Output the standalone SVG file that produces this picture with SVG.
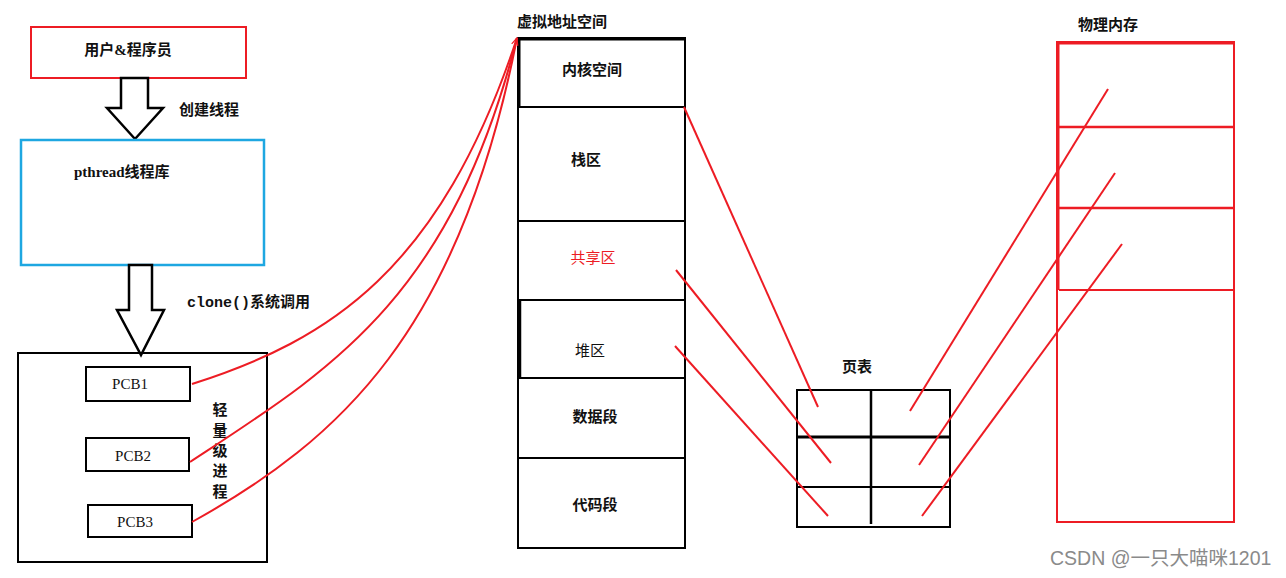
<svg xmlns="http://www.w3.org/2000/svg" width="1286" height="578" viewBox="0 0 1286 578">
<defs>
<style>
.t{font-family:"Liberation Serif","Noto Sans CJK SC",serif;font-size:15px;font-weight:bold;fill:#111;}
.n{font-weight:normal;}
.m{font-family:"Liberation Mono","Noto Sans CJK SC",monospace;font-size:15px;font-weight:bold;fill:#111;}
.blk{fill:none;stroke:#000;stroke-width:2;}
.red{fill:none;stroke:#ed1c24;stroke-width:2;}
.lnk{fill:none;stroke:#ed1c24;stroke-width:2;}
.blockarrow{fill:#fff;stroke:#000;stroke-width:2.5;stroke-linejoin:miter;}
</style>
<marker id="openhead" viewBox="0 0 10 10" refX="9" refY="5" markerWidth="8" markerHeight="8" orient="auto" markerUnits="userSpaceOnUse">
<path d="M0,1 L9,5 L0,9" fill="none" stroke="#ed1c24" stroke-width="1.5"/>
</marker>
</defs>
<rect width="1286" height="578" fill="#fff"/>

<g id="user">
<rect x="31" y="27" width="215" height="51" class="red" stroke-width="2.5"/>
<text x="128" y="55" class="t" text-anchor="middle">用户&amp;程序员</text>
</g>

<g id="arrow-create">
<path d="M121,78 L148,78 L148,108 L163,108 L135,139 L107,108 L121,108 Z" class="blockarrow"/>
<text x="179" y="115" class="t">创建线程</text>
</g>

<g id="pthread">
<rect x="21" y="140" width="243" height="125" fill="none" stroke="#1ea7e1" stroke-width="2.5"/>
<text x="74" y="177" class="t">pthread线程库</text>
</g>

<g id="arrow-clone">
<path d="M129,265 L152,265 L152,310 L164,310 L141,355 L117,310 L129,310 Z" class="blockarrow"/>
<text x="187" y="307" class="m">clone()系统调用</text>
</g>

<g id="lwp">
<rect x="18" y="353" width="249" height="209" class="blk" stroke-width="2.5"/>
<text x="220" y="415" class="t" text-anchor="middle">轻</text>
<text x="220" y="436" class="t" text-anchor="middle">量</text>
<text x="220" y="456" class="t" text-anchor="middle">级</text>
<text x="220" y="476" class="t" text-anchor="middle">进</text>
<text x="220" y="497" class="t" text-anchor="middle">程</text>
</g>
<g id="pcb1">
<rect x="86" y="367" width="104" height="34" class="blk" stroke-width="2.5"/>
<text x="130" y="389" class="t n" text-anchor="middle">PCB1</text>
</g>
<g id="pcb2">
<rect x="86" y="438" width="103" height="33" class="blk" stroke-width="2.5"/>
<text x="133" y="461" class="t n" text-anchor="middle">PCB2</text>
</g>
<g id="pcb3">
<rect x="88" y="505" width="104" height="32" class="blk" stroke-width="2.5"/>
<text x="135" y="527" class="t n" text-anchor="middle">PCB3</text>
</g>

<g id="vaspace">
<text x="517" y="27" class="t">虚拟地址空间</text>
<rect x="518" y="38" width="167" height="510" class="blk" stroke-width="2.5"/>
<line x1="517" y1="39" x2="685" y2="39" stroke="#000" stroke-width="3"/>
<line x1="519" y1="38" x2="519" y2="107" stroke="#000" stroke-width="3"/>
<line x1="518" y1="107" x2="685" y2="107" stroke="#000" stroke-width="2"/>
<line x1="518" y1="221" x2="685" y2="221" stroke="#000" stroke-width="2"/>
<line x1="518" y1="300" x2="685" y2="300" stroke="#000" stroke-width="2"/>
<line x1="520" y1="300" x2="520" y2="378" stroke="#000" stroke-width="2.5"/>
<line x1="518" y1="378" x2="685" y2="378" stroke="#000" stroke-width="2"/>
<line x1="518" y1="458" x2="685" y2="458" stroke="#000" stroke-width="2"/>
<text x="592" y="75" class="t" text-anchor="middle">内核空间</text>
<text x="586" y="165" class="t" text-anchor="middle">栈区</text>
<text x="593" y="263" class="t n" text-anchor="middle" style="fill:#ed1c24">共享区</text>
<text x="590" y="356" class="t n" text-anchor="middle">堆区</text>
<text x="595" y="422" class="t" text-anchor="middle">数据段</text>
<text x="595" y="510" class="t" text-anchor="middle">代码段</text>
</g>

<g id="pagetable">
<text x="857" y="372" class="t" text-anchor="middle">页表</text>
<rect x="797" y="390" width="153" height="137" class="blk" stroke-width="2.5"/>
<line x1="871" y1="390" x2="871" y2="524" stroke="#000" stroke-width="2.5"/>
<line x1="797" y1="437" x2="950" y2="437" stroke="#000" stroke-width="3"/>
<line x1="797" y1="487" x2="950" y2="487" stroke="#000" stroke-width="2"/>
</g>

<g id="physmem">
<text x="1078" y="30" class="t">物理内存</text>
<rect x="1057" y="42" width="177" height="480" class="red" stroke-width="2.5"/>
<line x1="1057" y1="43" x2="1234" y2="43" stroke="#ed1c24" stroke-width="3"/>
<line x1="1058" y1="42" x2="1058" y2="290" stroke="#ed1c24" stroke-width="3"/>
<line x1="1057" y1="127" x2="1234" y2="127" stroke="#ed1c24" stroke-width="2.5"/>
<line x1="1057" y1="208" x2="1234" y2="208" stroke="#ed1c24" stroke-width="2.5"/>
<line x1="1059" y1="290" x2="1234" y2="290" stroke="#ed1c24" stroke-width="2"/>
</g>

<g id="connectors">
<path d="M192,384 C330,340 440,270 517,38" class="lnk" marker-end="url(#openhead)"/>
<path d="M190,462 C330,370 450,300 517,38" class="lnk"/>
<path d="M192,522 C340,440 460,330 517,38" class="lnk"/>
<line x1="684" y1="107" x2="818" y2="407" class="lnk"/>
<line x1="676" y1="270" x2="831" y2="463" class="lnk"/>
<line x1="675" y1="346" x2="828" y2="516" class="lnk"/>
<line x1="910" y1="411" x2="1108" y2="89" class="lnk"/>
<line x1="919" y1="465" x2="1115" y2="173" class="lnk"/>
<line x1="922" y1="516" x2="1122" y2="244" class="lnk"/>
</g>

<text x="1050" y="565" font-family="'Liberation Sans','Noto Sans CJK SC',sans-serif" font-size="19.5" fill="#8a8a8a">CSDN @一只大喵咪1201</text>
</svg>
